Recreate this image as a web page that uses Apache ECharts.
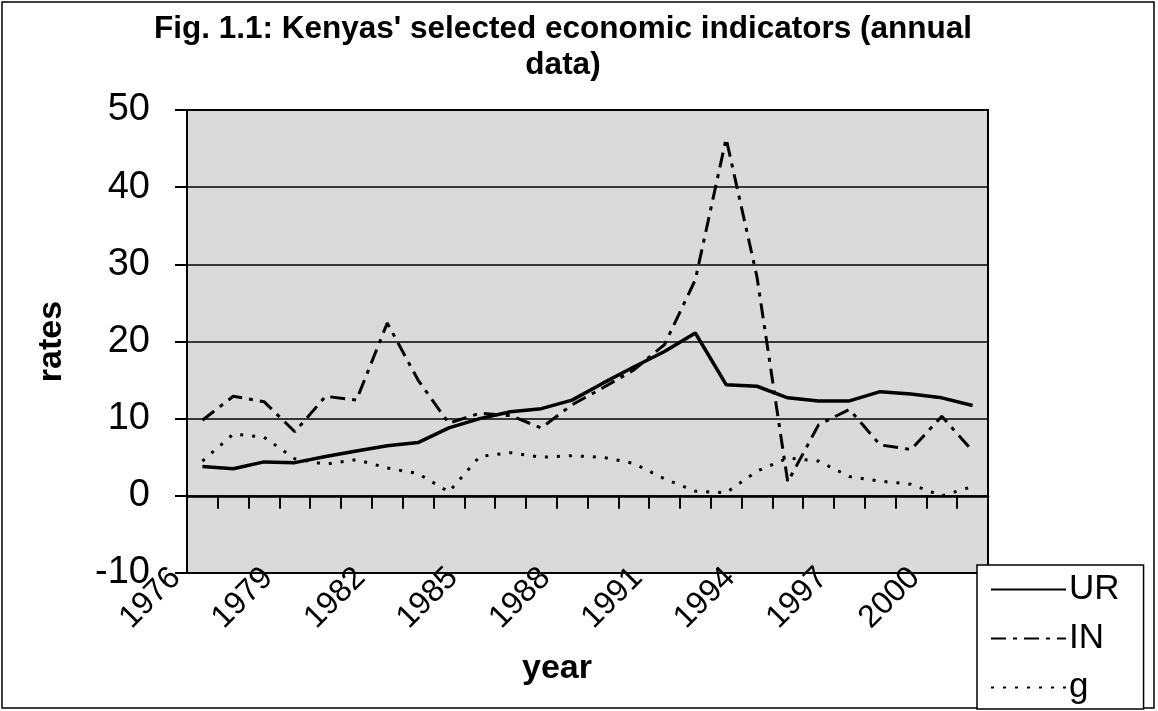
<!DOCTYPE html>
<html>
<head>
<meta charset="utf-8">
<title>Fig. 1.1</title>
<script src="https://cdn.jsdelivr.net/npm/echarts@6/dist/echarts.min.js"></script>
<style>
  html, body { margin: 0; padding: 0; background: #fff; }
  #chart { width: 1158px; height: 711px; }
</style>
</head>
<body>
<div id="chart"></div>
<script>
// years on the category axis
const years = [
  "1976", "1977", "1978", "1979", "1980", "1981", "1982", "1983", "1984",
  "1985", "1986", "1987", "1988", "1989", "1990", "1991", "1992", "1993",
  "1994", "1995", "1996", "1997", "1998", "1999", "2000", "2001",
];
// UR
const urRates = [
  3.8, 3.5, 4.4, 4.3, 5.1, 5.8, 6.5, 6.9, 8.8, 10.0, 10.9, 11.3, 12.4,
  14.6, 16.7, 18.7, 21.1, 14.4, 14.2, 12.7, 12.3, 12.3, 13.5, 13.2, 12.7, 11.7,
];
// IN
const inRates = [
  9.8, 12.9, 12.2, 8.3, 12.9, 12.4, 22.4, 15.0, 9.4, 10.7, 10.4, 8.8, 11.8,
  14.0, 16.3, 19.6, 28.0, 46.3, 28.4, 1.8, 9.2, 11.2, 6.6, 6.0, 10.3, 5.8,
];
// g
const gRates = [
  4.5, 8.0, 7.6, 4.8, 4.1, 4.7, 3.6, 2.9, 0.5, 5.1, 5.6, 5.0, 5.2,
  5.0, 4.2, 2.2, 0.6, 0.4, 3.2, 4.9, 4.5, 2.5, 1.9, 1.5, 0.0, 1.2,
];
const yMin = -10;
const yMax = 50;
const yInterval = 10;

const font = "'Liberation Sans', Arial, sans-serif";

const chart = echarts.init(document.getElementById("chart"), null, { renderer: "canvas" });

chart.setOption({
  animation: false,
  backgroundColor: "#fff",
  textStyle: { fontFamily: font, color: "#000" },
  title: {
    text: "Fig. 1.1: Kenyas' selected economic indicators (annual\ndata)",
    left: 558,
    top: 6,
    textAlign: "center",
    textStyle: {
      fontFamily: font,
      fontSize: 31.5,
      fontWeight: "bold",
      color: "#000",
      lineHeight: 36,
    },
  },
  grid: {
    left: 187,
    top: 110,
    right: 170,
    bottom: 138,
    show: true,
    backgroundColor: "#dadada",
    borderColor: "#000",
    borderWidth: 2,
  },
  legend: {
    orient: "vertical",
    left: 977,
    top: 565,
    padding: [7, 24, 4, 13],
    itemWidth: 75,
    itemHeight: 14,
    itemGap: 14,
    selectedMode: false,
    backgroundColor: "#fff",
    borderColor: "#000",
    borderWidth: 1.5,
    itemStyle: { opacity: 0 },
    textStyle: { fontFamily: font, fontSize: 35, lineHeight: 33, color: "#000", padding: [0, 0, 0, -2] },
    data: ["UR", "IN", "g"],
  },
  xAxis: [
    {
      type: "category",
      data: years,
      position: "bottom",
      axisLine: { onZero: false, lineStyle: { color: "#000", width: 2 } },
      axisTick: { show: false },
      axisLabel: {
        interval: 2,
        rotate: 45,
        margin: -27,
        padding: [0, 38, 0, 0],
        fontFamily: font,
        fontSize: 32,
        color: "#000",
      },
      splitLine: { show: false },
    },
    {
      // line at zero with the tick marks
      type: "category",
      data: years,
      position: "bottom",
      axisLine: { onZero: true, lineStyle: { color: "#000", width: 2.5 } },
      axisTick: { show: true, interval: 0, length: 13, lineStyle: { color: "#000", width: 2 } },
      axisLabel: { show: false, interval: 0 },
      splitLine: { show: false },
    },
  ],
  yAxis: {
    type: "value",
    min: yMin,
    max: yMax,
    interval: yInterval,
    name: "rates",
    nameLocation: "middle",
    nameGap: 118,
    nameTextStyle: { fontFamily: font, fontSize: 34, fontWeight: "bold", color: "#000" },
    axisLine: { show: true, lineStyle: { color: "#000", width: 2 } },
    axisTick: { show: true, length: 12, lineStyle: { color: "#000", width: 2 } },
    axisLabel: { margin: 37, fontFamily: font, fontSize: 38, color: "#000" },
    splitLine: { show: true, lineStyle: { color: "#000", width: 1.5 } },
  },
  graphic: [
    {
      type: "text",
      left: 522,
      top: 652,
      style: { text: "year", font: "bold 34px " + font, fill: "#000" },
    },
    {
      type: "rect",
      shape: { x: 2, y: 2, width: 1152, height: 706 },
      style: { fill: null, stroke: "#000", lineWidth: 1.5 },
      z: -1,
    },
  ],
  series: [
    {
      name: "UR",
      type: "line",
      data: urRates,
      symbol: "none",
      lineStyle: { color: "#000", width: 3.5, type: "solid" },
      itemStyle: { color: "#000" },
    },
    {
      name: "IN",
      type: "line",
      data: inRates,
      symbol: "none",
      lineStyle: { color: "#000", width: 3, type: [15, 7, 4, 7] },
      itemStyle: { color: "#000" },
    },
    {
      name: "g",
      type: "line",
      data: gRates,
      symbol: "none",
      lineStyle: { color: "#000", width: 3, type: [3, 9] },
      itemStyle: { color: "#000" },
    },
  ],
});
</script>
</body>
</html>
